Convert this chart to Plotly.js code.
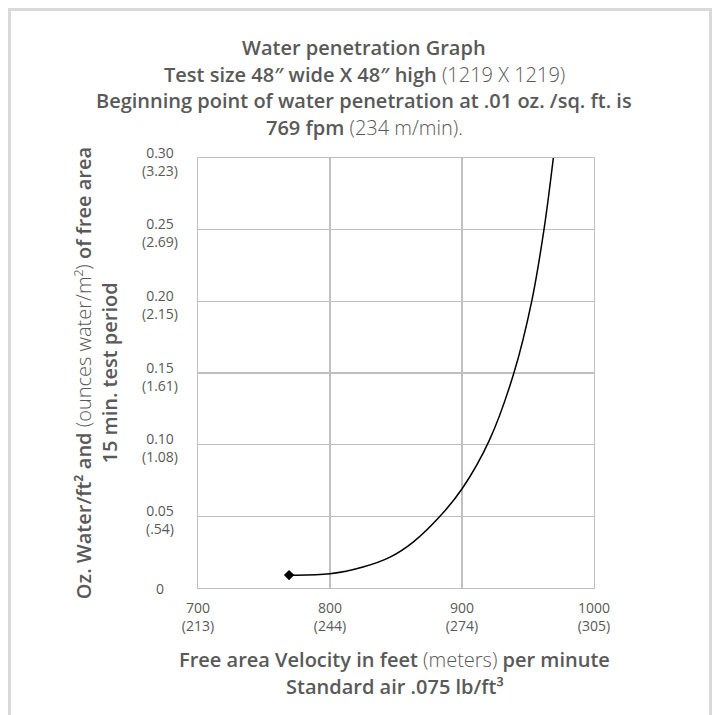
<!DOCTYPE html>
<html>
<head>
<meta charset="utf-8">
<script src="https://cdn.plot.ly/plotly-3.0.1.min.js"></script>
<style>
  html, body { margin: 0; padding: 0; background: #ffffff; }
  body { width: 715px; height: 715px; overflow: hidden; position: relative; }
  #frame { position: absolute; left: 8px; top: 8px; width: 704px; height: 730px; border: 3px solid #d9d9d9; box-sizing: border-box; }
  #chart { position: absolute; left: 0; top: 0; width: 715px; height: 715px; }
</style>
</head>
<body>
<div id="frame"></div>
<div id="chart"></div>
<script>
// ---- data ----
const velocityFpm = [769, 800, 825, 845.5, 863, 883.3, 900.2, 920.7, 939.3, 952.8, 962.1, 969.2];
const waterOzPerSqFt = [0.009, 0.0099, 0.0146, 0.0215, 0.032, 0.050, 0.0694, 0.103, 0.150, 0.200, 0.250, 0.300];

const xTickVals = [700, 800, 900, 1000];
const xTickText = ['700<br>(213)', '800<br>(244)', '900<br>(274)', '1000<br>(305)'];
const yTickVals = [0, 0.05, 0.10, 0.15, 0.20, 0.25, 0.30];
const yTickText = ['0', '0.05<br>(.54)', '0.10<br>(1.08)', '0.15<br>(1.61)', '0.20<br>(2.15)', '0.25<br>(2.69)', '0.30<br>(3.23)'];

const LIGHT = '<span style="font-weight:300">';
const titleLines = [
  'Water penetration Graph',
  'Test size 48″ wide X 48″ high ' + LIGHT + '(1219 X 1219)</span>',
  'Beginning point of water penetration at .01 oz. /sq. ft. is',
  '769 fpm ' + LIGHT + '(234 m/min).</span>'
];
const xTitleLines = [
  'Free area Velocity in feet ' + LIGHT + '(meters)</span> per minute',
  'Standard air .075 lb/ft³'
];
const yTitleLines = [
  'Oz. Water/ft² and ' + LIGHT + '(ounces water/m²)</span> of free area',
  '15 min. test period'
];

// ---- styles ----
const FONT = 'Open Sans, Noto Sans, sans-serif';
const TXT = '#595959';
const GRID = '#bfbfbf';

const traces = [
  {
    x: velocityFpm, y: waterOzPerSqFt,
    type: 'scatter', mode: 'lines',
    line: { color: '#000000', width: 1.5, shape: 'spline', smoothing: 1 },
    hoverinfo: 'skip', showlegend: false
  },
  {
    x: [velocityFpm[0]], y: [waterOzPerSqFt[0]],
    type: 'scatter', mode: 'markers',
    marker: { symbol: 'diamond', size: 8, color: '#000000' },
    hoverinfo: 'skip', showlegend: false
  }
];

const annotations = [];
const titleY = [1.258, 1.195, 1.133, 1.072];
titleLines.forEach((t, i) => annotations.push({
  text: t, xref: 'paper', yref: 'paper', x: 0.42, y: titleY[i],
  xanchor: 'center', yanchor: 'middle', showarrow: false,
  font: { family: FONT, size: 20, color: TXT, weight: 600 }
}));
const xTitleY = [-0.167, -0.230];
xTitleLines.forEach((t, i) => annotations.push({
  text: t, xref: 'paper', yref: 'paper', x: 0.497, y: xTitleY[i],
  xanchor: 'center', yanchor: 'middle', showarrow: false,
  font: { family: FONT, size: 20, color: TXT, weight: 600 }
}));
const yTitleX = [-0.290, -0.226];
yTitleLines.forEach((t, i) => annotations.push({
  text: t, xref: 'paper', yref: 'paper', x: yTitleX[i], y: 0.5,
  xanchor: 'center', yanchor: 'middle', showarrow: false, textangle: -90,
  font: { family: FONT, size: 20, color: TXT, weight: 600 }
}));
yTickVals.forEach((v, i) => annotations.push({
  text: yTickText[i], xref: 'paper', yref: 'y', x: -0.096, y: v,
  xanchor: 'center', yanchor: 'middle', showarrow: false, align: 'center',
  yshift: yTickText[i].indexOf('<br>') >= 0 ? -3 : 0,
  font: { family: FONT, size: 14, color: TXT }
}));

const layout = {
  width: 715, height: 715,
  margin: { l: 198, r: 121, t: 158, b: 127 },
  paper_bgcolor: 'rgba(0,0,0,0)',
  plot_bgcolor: '#ffffff',
  font: { family: FONT, color: TXT },
  showlegend: false,
  xaxis: {
    range: [700, 1000], tickvals: xTickVals, ticktext: xTickText,
    showgrid: true, gridcolor: GRID, gridwidth: 1.3,
    showline: true, linecolor: GRID, linewidth: 1.3, mirror: true,
    zeroline: false, ticks: '', ticklabelstandoff: 7,
    tickfont: { family: FONT, size: 14, color: TXT }, fixedrange: true
  },
  yaxis: {
    range: [0, 0.30], tickvals: yTickVals,
    showticklabels: false,
    showgrid: true, gridcolor: GRID, gridwidth: 1.3,
    showline: true, linecolor: GRID, linewidth: 1.3, mirror: true,
    zeroline: false, ticks: '', fixedrange: true
  },
  annotations: annotations
};

Plotly.newPlot('chart', traces, layout, { staticPlot: true, displayModeBar: false });
</script>
</body>
</html>
